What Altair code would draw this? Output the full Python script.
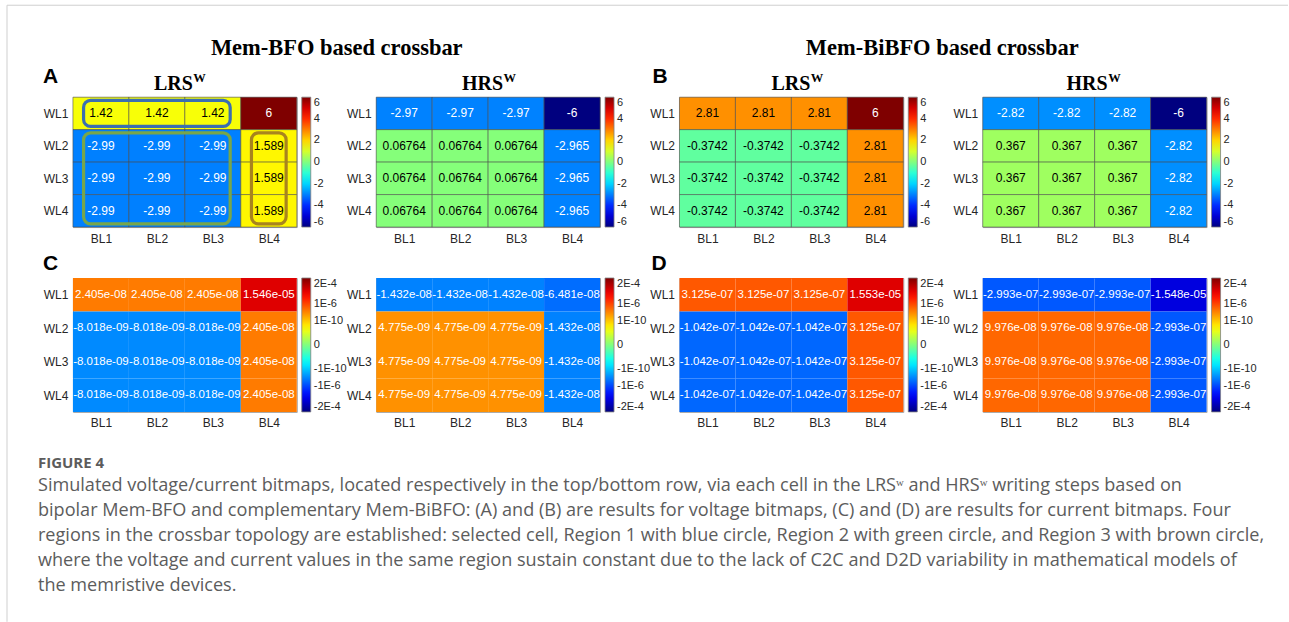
import math
import altair as alt
import pandas as pd

# ---------------- data ----------------
ROWS = ["WL1", "WL2", "WL3", "WL4"]
COLS = ["BL1", "BL2", "BL3", "BL4"]

A_LRS = [[1.42, 1.42, 1.42, 6], [-2.99, -2.99, -2.99, 1.589],
         [-2.99, -2.99, -2.99, 1.589], [-2.99, -2.99, -2.99, 1.589]]
A_HRS = [[-2.97, -2.97, -2.97, -6], [0.06764, 0.06764, 0.06764, -2.965],
         [0.06764, 0.06764, 0.06764, -2.965], [0.06764, 0.06764, 0.06764, -2.965]]
B_LRS = [[2.81, 2.81, 2.81, 6], [-0.3742, -0.3742, -0.3742, 2.81],
         [-0.3742, -0.3742, -0.3742, 2.81], [-0.3742, -0.3742, -0.3742, 2.81]]
B_HRS = [[-2.82, -2.82, -2.82, -6], [0.367, 0.367, 0.367, -2.82],
         [0.367, 0.367, 0.367, -2.82], [0.367, 0.367, 0.367, -2.82]]
C_LRS = [[2.405e-08, 2.405e-08, 2.405e-08, 1.546e-05], [-8.018e-09, -8.018e-09, -8.018e-09, 2.405e-08],
         [-8.018e-09, -8.018e-09, -8.018e-09, 2.405e-08], [-8.018e-09, -8.018e-09, -8.018e-09, 2.405e-08]]
C_HRS = [[-1.432e-08, -1.432e-08, -1.432e-08, -6.481e-08], [4.775e-09, 4.775e-09, 4.775e-09, -1.432e-08],
         [4.775e-09, 4.775e-09, 4.775e-09, -1.432e-08], [4.775e-09, 4.775e-09, 4.775e-09, -1.432e-08]]
D_LRS = [[3.125e-07, 3.125e-07, 3.125e-07, 1.553e-05], [-1.042e-07, -1.042e-07, -1.042e-07, 3.125e-07],
         [-1.042e-07, -1.042e-07, -1.042e-07, 3.125e-07], [-1.042e-07, -1.042e-07, -1.042e-07, 3.125e-07]]
D_HRS = [[-2.993e-07, -2.993e-07, -2.993e-07, -1.548e-05], [9.976e-08, 9.976e-08, 9.976e-08, -2.993e-07],
         [9.976e-08, 9.976e-08, 9.976e-08, -2.993e-07], [9.976e-08, 9.976e-08, 9.976e-08, -2.993e-07]]

V_TICKS = [6, 4, 2, 0, -2, -4, -6]
I_TICKS = [2e-4, 1e-6, 1e-10, 0, -1e-10, -1e-6, -2e-4]
I_TICK_LABELS = ["2E-4", "1E-6", "1E-10", "0", "-1E-10", "-1E-6", "-2E-4"]

# regions in panel A (row start, row end, col start, col end, colour)
REGIONS_A = [(0, 1, 0, 3, "#3b6fb0"), (1, 4, 0, 3, "#78a64a"), (1, 4, 3, 4, "#a8841e")]

CAPTION = [
    "Simulated voltage/current bitmaps, located respectively in the top/bottom row, via each cell in the LRS\u02b7 and HRS\u02b7 writing steps based on",
    "bipolar Mem-BFO and complementary Mem-BiBFO: (A) and (B) are results for voltage bitmaps, (C) and (D) are results for current bitmaps. Four",
    "regions in the crossbar topology are established: selected cell, Region 1 with blue circle, Region 2 with green circle, and Region 3 with brown circle,",
    "where the voltage and current values in the same region sustain constant due to the lack of C2C and D2D variability in mathematical models of",
    "the memristive devices.",
]

# ---------------- styles ----------------
JET = ["#00007f", "#0000ff", "#00ffff", "#ffff00", "#ff0000", "#7f0000"]
V_DOM = [-6, -4.5, -1.5, 1.5, 4.5, 6]
I_DOM = [-1, -0.75, -0.25, 0.25, 0.75, 1]
W = 224
SANS = "Liberation Sans"
SERIF = "Liberation Serif"


def ipos(v):
    """position of a current value on the (signed, log-like) colour bar, in [-1, 1]"""
    a = abs(v)
    if a == 0:
        return 0.0
    L = math.log10(a)
    if L < -10:
        c = 0.36 * a / 1e-10
    elif L <= -6:
        c = 0.36 + (L + 10) * 0.0625
    else:
        c = 0.61 + (L + 6) * 0.39 / (math.log10(2e-4) + 6)
    return math.copysign(c, v)


one = pd.DataFrame({"k": [0]})


def txt(s, x, y, size, font, weight="normal", color="#000000", align="left"):
    return alt.Chart(one).mark_text(
        text=s, font=font, fontSize=size, fontWeight=weight, color=color,
        align=align, baseline="alphabetic"
    ).encode(x=alt.value(x), y=alt.value(y))


def sup_title(main, xend, size=20):
    return [
        txt(main, xend, -7, size, SERIF, "bold", align="right"),
        txt("W", xend + 0.5, -15, 12.5, SERIF, "bold"),
    ]


def scales_axes():
    sx = alt.Scale(domain=[0, 4], nice=False, zero=False)
    sy = alt.Scale(domain=[0, 4], nice=False, zero=False, reverse=True)
    ax = alt.Axis(values=[0.5, 1.5, 2.5, 3.5], title=None, orient="bottom",
                  labelExpr=f"{COLS}[floor(datum.value)]", labelPadding=6,
                  ticks=False, domain=False, grid=False)
    ay = alt.Axis(values=[0.5, 1.5, 2.5, 3.5], title=None, orient="left",
                  labelExpr=f"{ROWS}[floor(datum.value)]", labelPadding=5,
                  ticks=False, domain=False, grid=False)
    return sx, sy, ax, ay


def panel(mat, kind, h, extras=()):
    recs = []
    for r in range(4):
        for c in range(4):
            v = mat[r][c]
            recs.append(dict(r0=r, r1=r + 1, c0=c, c1=c + 1, cx=c + 0.5, ry=r + 0.5,
                             v=v, lab=format(v, ".4g"),
                             cv=v if kind == "V" else ipos(v)))
    df = pd.DataFrame(recs)
    sx, sy, ax, ay = scales_axes()

    if kind == "V":
        cscale = alt.Scale(domain=V_DOM, range=JET, interpolate="rgb")
        vals = V_TICKS
        lexpr = "'' + datum.value"
    else:
        cscale = alt.Scale(domain=I_DOM, range=JET, interpolate="rgb")
        pos = [round(ipos(t), 6) for t in I_TICKS]
        vals = pos
        lexpr = " : ".join(f"abs(datum.value - ({p})) < 0.0001 ? '{lab}'"
                           for p, lab in zip(pos, I_TICK_LABELS)) + " : ''"

    legend = alt.Legend(type="gradient", direction="vertical", orient="right", title=None,
                        gradientLength=h, gradientThickness=9, offset=5, padding=0,
                        values=vals, labelExpr=lexpr, labelFont=SANS, labelFontSize=11,
                        labelColor="#262626", labelOverlap=False, labelOffset=3,
                        labelBaseline="middle", gradientStrokeColor="#808080",
                        gradientStrokeWidth=0.8)

    rect_kw = dict(stroke="#4a4a4a", strokeWidth=0.7, strokeOpacity=0.8) if kind == "V" else dict(strokeWidth=0)
    cells = alt.Chart(df).mark_rect(**rect_kw).encode(
        x=alt.X("c0:Q", scale=sx, axis=ax), x2="c1:Q",
        y=alt.Y("r0:Q", scale=sy, axis=ay), y2="r1:Q",
        color=alt.Color("cv:Q", scale=cscale, legend=legend),
    )
    if kind == "V":
        tcolor = alt.condition("datum.v < -1.5 || datum.v > 4.5", alt.value("#ffffff"), alt.value("#000000"))
        fs = 12
    else:
        tcolor = alt.value("#ffffff")
        fs = 11.5
    labels = alt.Chart(df).mark_text(font=SANS, fontSize=fs).encode(
        x=alt.X("cx:Q", scale=sx, axis=ax),
        y=alt.Y("ry:Q", scale=sy, axis=ay),
        text="lab:N", color=tcolor,
    )
    return alt.layer(cells, labels, *extras).properties(width=W, height=h)


def regions_layer():
    recs = [dict(x0=c0 + 0.19, x1=c1 - 0.19, y0=r0 + 0.1, y1=r1 - 0.1, col=col)
            for r0, r1, c0, c1, col in REGIONS_A]
    sx, sy, ax, ay = scales_axes()
    return alt.Chart(pd.DataFrame(recs)).mark_rect(
        fillOpacity=0, strokeWidth=3.2, cornerRadius=7
    ).encode(
        x=alt.X("x0:Q", scale=sx, axis=ax), x2="x1:Q",
        y=alt.Y("y0:Q", scale=sy, axis=ay), y2="y1:Q",
        stroke=alt.Stroke("col:N", scale=None),
    )


frame = [
    alt.Chart(one).mark_rule(color="#cfcfcf", strokeWidth=1).encode(
        x=alt.value(-66), y=alt.value(-92), y2=alt.value(525)),
    alt.Chart(one).mark_rule(color="#cfcfcf", strokeWidth=1).encode(
        x=alt.value(-66), x2=alt.value(1216), y=alt.value(-92)),
]

pA = panel(A_LRS, "V", 130, extras=[regions_layer(), *frame,
                                    txt("Mem-BFO based crossbar", 264, -42, 22.5, SERIF, "bold", align="center"),
                                    txt("A", -30, -14, 21, SANS, "bold"),
                                    *sup_title("LRS", 120)])
pA2 = panel(A_HRS, "V", 130, extras=[*sup_title("HRS", 127)])
pB = panel(B_LRS, "V", 130, extras=[txt("Mem-BiBFO based crossbar", 263, -42, 22.5, SERIF, "bold", align="center"),
                                    txt("B", -27, -14, 21, SANS, "bold"),
                                    *sup_title("LRS", 131)])
pB2 = panel(B_HRS, "V", 130, extras=[*sup_title("HRS", 125)])

cap = [txt("FIGURE 4", -35, 190, 15, "Open Sans", "bold", color="#5c5c5c")]
for i, line in enumerate(CAPTION):
    cap.append(txt(line, -35, 213 + 25 * i, 18.1, "Open Sans", color="#5c5c5c"))

pC = panel(C_LRS, "I", 134, extras=[txt("C", -30, -8, 21, SANS, "bold"), *cap])
pC2 = panel(C_HRS, "I", 134)
pD = panel(D_LRS, "I", 134, extras=[txt("D", -28, -8, 21, SANS, "bold")])
pD2 = panel(D_HRS, "I", 134)

chart = alt.concat(
    pA, pA2, pB, pB2, pC, pC2, pD, pD2,
    columns=4, spacing={"row": 51, "column": 79.5}, bounds="flush",
).resolve_scale(
    color="independent"
).resolve_legend(
    color="independent"
).properties(
    padding={"left": 6, "top": 4, "right": 0, "bottom": 0},
    background="white",
).configure_view(
    stroke="#a3a3a3", strokeWidth=1
).configure_axis(
    labelFont=SANS, labelFontSize=12, labelColor="#262626"
)

chart.save("out.html", embed_options={"renderer": "svg", "actions": False})
